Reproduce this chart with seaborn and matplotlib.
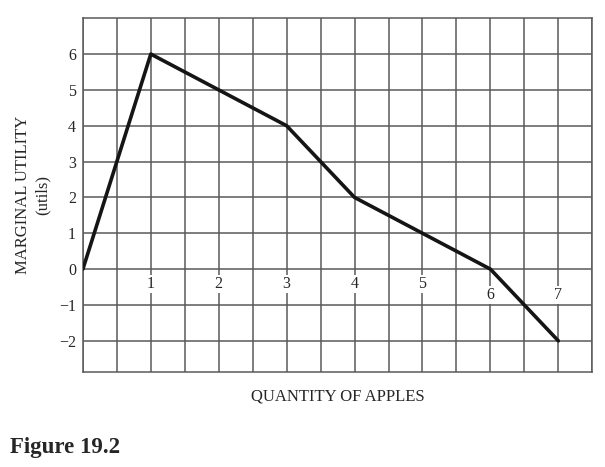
import numpy as np
import pandas as pd
import seaborn as sns
import matplotlib
matplotlib.use('Agg')
import matplotlib.pyplot as plt

# data
quantity = [0, 1, 2, 3, 4, 5, 6, 7]
marginal_utility = [0, 6, 5, 4, 2, 1, 0, -2]
x_tick_labels = ['1', '2', '3', '4', '5', '6', '7']
y_ticks = [-2, -1, 0, 1, 2, 3, 4, 5, 6]

sns.set_style('white')
plt.rcParams['font.family'] = ['Liberation Serif', 'DejaVu Serif']

df = pd.DataFrame({'q': quantity, 'mu': marginal_utility})

fig = plt.figure(figsize=(6.05, 4.67), dpi=100)
ax = fig.add_axes([0.137, 0.2034, 0.842, 0.7576])

sns.lineplot(data=df, x='q', y='mu', color='#151515', linewidth=2.6, ax=ax, zorder=5)

ax.set_xlim(0, 7.5)
ax.set_ylim(-2.87, 7)
ax.set_xticks(np.arange(0, 7.51, 0.5))
ax.set_yticks(y_ticks)
ax.set_yticklabels([str(v).replace('-', '\u2212') for v in y_ticks], fontsize=11.5)
ax.tick_params(axis='x', length=0, labelbottom=False)
ax.tick_params(axis='y', length=0, pad=5)
ax.grid(True, color='#5a5a5a', linewidth=1.1)
for s in ax.spines.values():
    s.set_color('#5a5a5a')
    s.set_linewidth(1.1)

# x numbers sit inside the grid just under the zero line
for i, lab in enumerate(x_tick_labels):
    q = i + 1
    yy = -0.72 if q >= 6 else -0.42
    ax.text(q, yy, lab, ha='center', va='center', fontsize=11.5,
            bbox=dict(facecolor='white', edgecolor='none', pad=0.6), zorder=4)

ax.set_xlabel('QUANTITY OF APPLES', fontsize=12, labelpad=12)
ax.set_ylabel('MARGINAL UTILITY\n(utils)', fontsize=12, labelpad=6, linespacing=1.3)

fig.text(0.017, 0.03, 'Figure 19.2', fontsize=16.5, fontweight='bold', ha='left')

fig.savefig('out.png', dpi=100)
